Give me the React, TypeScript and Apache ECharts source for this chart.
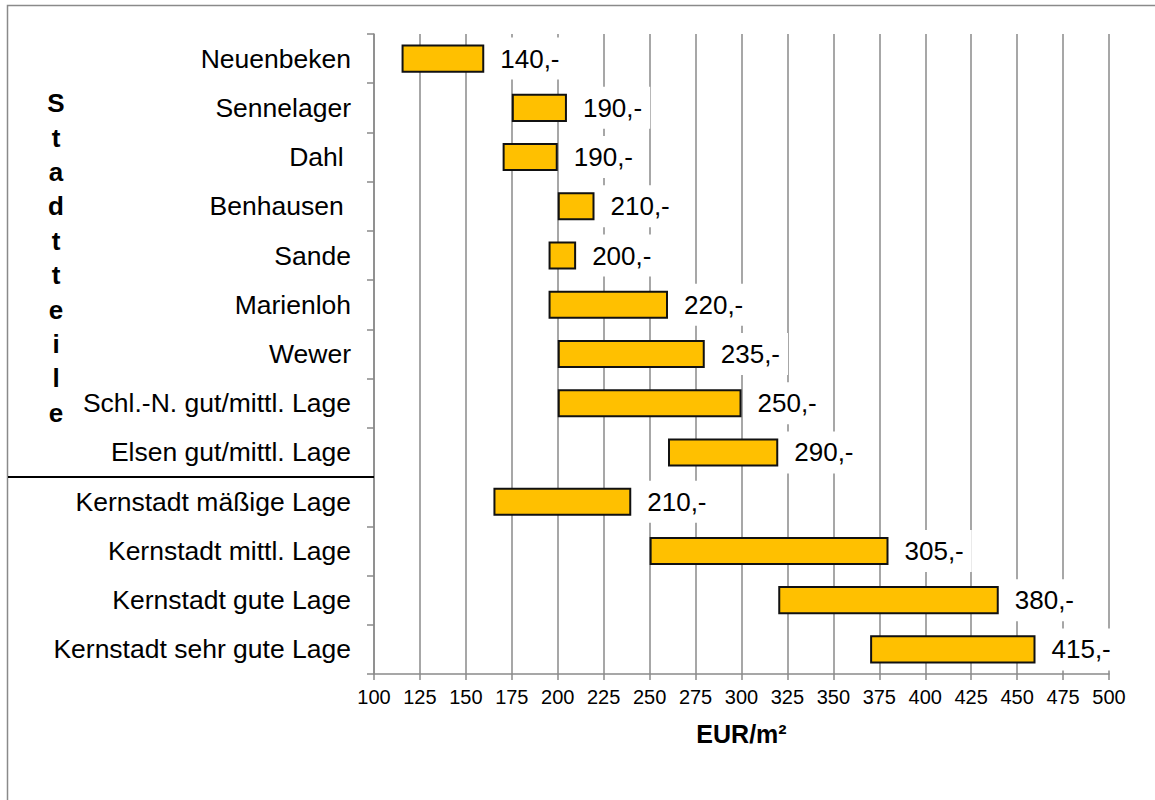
import React, { useEffect, useRef } from "react";
import * as echarts from "echarts";

const categories = [
  "Neuenbeken",
  "Sennelager",
  "Dahl ",
  "Benhausen ",
  "Sande",
  "Marienloh",
  "Wewer",
  "Schl.-N. gut/mittl. Lage",
  "Elsen gut/mittl. Lage",
  "Kernstadt mäßige Lage",
  "Kernstadt mittl. Lage",
  "Kernstadt gute Lage",
  "Kernstadt sehr gute Lage",
];
const lowValues = [115, 175, 170, 200, 195, 195, 200, 200, 260, 165, 250, 320, 370];
const highValues = [160, 205, 200, 220, 210, 260, 280, 300, 320, 240, 380, 440, 460];
const meanValues = [140, 190, 190, 210, 200, 220, 235, 250, 290, 210, 305, 380, 415];
const axisTitle = "EUR/m²";
const sideTitle = "Stadtteile";
const dividerAfter = 8; // index of last "Stadtteil" row

const FONT = "'Liberation Sans', Arial, Helvetica, sans-serif";
const GRAY = "#8a8a8a";

export default function App() {
  const ref = useRef<HTMLDivElement>(null);

  useEffect(() => {
    if (!ref.current) return;
    const chart = echarts.init(ref.current, undefined, { renderer: "svg" });
    const rangeValues = highValues.map((h, i) => h - lowValues[i]);

    const option: any = {
      animation: false,
      textStyle: { fontFamily: FONT },
      grid: { left: 374, right: 46, top: 34, bottom: 126, containLabel: false },
      xAxis: {
        type: "value",
        min: 100,
        max: 500,
        interval: 25,
        name: axisTitle,
        nameLocation: "middle",
        nameGap: 47,
        nameTextStyle: { fontFamily: FONT, fontSize: 25, fontWeight: "bold", color: "#000" },
        axisLine: { show: true, lineStyle: { color: GRAY, width: 1.5 } },
        axisTick: { show: true, length: 6, lineStyle: { color: GRAY, width: 1.5 } },
        axisLabel: { fontFamily: FONT, fontSize: 20, color: "#000", margin: 13 },
        splitLine: { show: true, lineStyle: { color: GRAY, width: 1.5 } },
      },
      yAxis: {
        type: "category",
        data: categories,
        inverse: true,
        axisLine: { show: true, lineStyle: { color: GRAY, width: 1.5 } },
        axisTick: { show: true, length: 7, lineStyle: { color: GRAY, width: 1.5 } },
        axisLabel: { fontFamily: FONT, fontSize: 26.5, color: "#000", margin: 23 },
        splitLine: { show: false },
      },
      series: [
        {
          type: "bar",
          stack: "range",
          data: lowValues,
          barWidth: "57%",
          silent: true,
          itemStyle: { color: "transparent", borderWidth: 0 },
          emphasis: { disabled: true },
        },
        {
          type: "bar",
          stack: "range",
          data: rangeValues,
          barWidth: "57%",
          itemStyle: { color: "#FFC000", borderColor: "#111", borderWidth: 2 },
          emphasis: { disabled: true },
          label: {
            show: true,
            position: "right",
            distance: 8,
            formatter: (p: any) => meanValues[p.dataIndex] + ",-",
            fontFamily: FONT,
            fontSize: 26,
            color: "#000",
            backgroundColor: "#fff",
            padding: [8, 8],
          },
        },
      ],
      graphic: [
        {
          type: "rect",
          shape: { x: 7.5, y: 5.5, width: 1200, height: 900 },
          style: { fill: "none", stroke: GRAY, lineWidth: 1.5 },
          silent: true,
        },
        {
          type: "text",
          x: 56,
          y: 86,
          style: {
            text: sideTitle.split("").join("\n"),
            fontFamily: FONT,
            fontSize: 26,
            fontWeight: "bold",
            fill: "#000",
            align: "center",
            verticalAlign: "top",
            lineHeight: 34.4,
          },
        },
      ],
    };
    chart.setOption(option);

    const yA = chart.convertToPixel({ yAxisIndex: 0 }, categories[dividerAfter]) as number;
    const yB = chart.convertToPixel({ yAxisIndex: 0 }, categories[dividerAfter + 1]) as number;
    const xAxisStart = chart.convertToPixel({ xAxisIndex: 0 }, 100) as number;
    const yDiv = (yA + yB) / 2;
    chart.setOption({
      graphic: [
        {},
        {},
        {
          type: "line",
          shape: { x1: 8, y1: yDiv, x2: xAxisStart, y2: yDiv },
          style: { stroke: "#000", lineWidth: 2 },
          silent: true,
          z: 10,
        },
      ],
    });

    return () => chart.dispose();
  }, []);

  return (
    <div
      ref={ref}
      style={{ position: "absolute", left: 0, top: 0, width: 1155, height: 800, background: "#fff" }}
    />
  );
}
